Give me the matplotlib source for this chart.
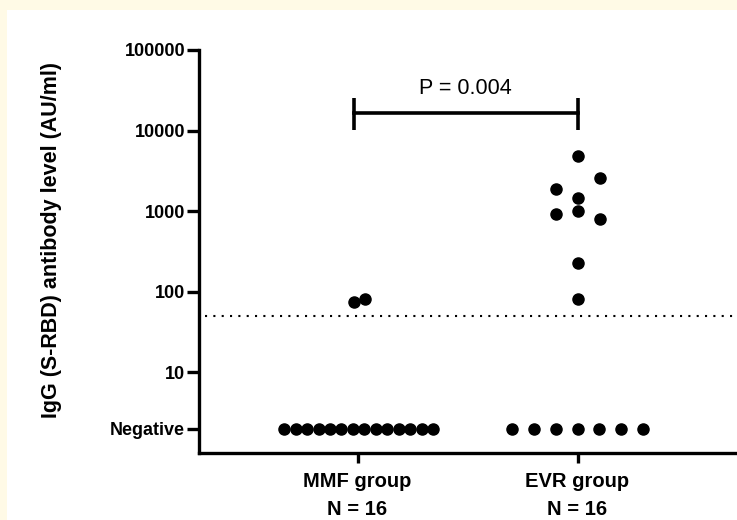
import numpy as np
import matplotlib
matplotlib.use("Agg")
import matplotlib.pyplot as plt
from matplotlib.patches import Rectangle

plt.rcParams['font.family'] = ['Liberation Sans', 'DejaVu Sans']

# Data (AU/ml); negatives are drawn at the "Negative" level
groups = ["MMF group", "EVR group"]
group_n = [16, 16]
negative_level = 2
cutoff = 50

mmf_negative_count = 14
mmf_positive = [74, 82]
mmf_positive_offset = [-0.016, 0.034]

evr_negative_count = 7
evr_positive = [4800, 2560, 1890, 1470, 930, 1010, 790, 226, 82]
evr_positive_offset = [0.0, 0.1, -0.1, 0.0, -0.1, 0.0, 0.1, 0.0, 0.0]

p_text = "P = 0.004"

y_ticks = [negative_level, 10, 100, 1000, 10000, 100000]
y_ticklabels = ["Negative", "10", "100", "1000", "10000", "100000"]


def main():
    fig = plt.figure(figsize=(7.37, 5.2), dpi=100, facecolor='#fffae6')
    # white panel inside the light yellow frame
    fig.patches.append(Rectangle((7 / 737, 0), 1, 510 / 520, transform=fig.transFigure,
                                 facecolor='white', edgecolor='none', zorder=-5))

    ax = fig.add_axes([199 / 737, 67 / 520, 1 - 199 / 737, 403 / 520])
    ax.set_facecolor('none')

    dot = dict(marker='o', color='black', markersize=8, linestyle='none', clip_on=False, zorder=3)

    # MMF group
    mmf_x = (np.arange(mmf_negative_count) - (mmf_negative_count - 1) / 2) * 0.052 + 0.005
    ax.plot(mmf_x, [negative_level] * mmf_negative_count, **dot)
    ax.plot(np.array(mmf_positive_offset), mmf_positive, **dot)

    # EVR group
    evr_x = 1 + (np.arange(evr_negative_count) - (evr_negative_count - 1) / 2) * 0.099
    ax.plot(evr_x, [negative_level] * evr_negative_count, **dot)
    ax.plot(1 + np.array(evr_positive_offset), evr_positive, **dot)

    # detection cutoff
    ax.axhline(cutoff, xmin=0.012, xmax=1, color='black', linewidth=1.5,
               linestyle=(0, (1, 3)), zorder=2)

    # significance bracket
    yb = 16500
    ax.plot([-0.015, 1.0], [yb, yb], color='black', linewidth=2.6, clip_on=False)
    for xb in [-0.015, 1.0]:
        ax.plot([xb, xb], [yb / 1.62, yb * 1.54], color='black', linewidth=2.6,
                clip_on=False, solid_capstyle='butt')
    ax.text(0.49, 33750, p_text, ha='center', va='center', fontsize=15.5)

    ax.set_yscale('log')
    ax.set_ylim(1, 100000)
    ax.set_xlim(-0.7205, 1.725)
    ax.set_yticks(y_ticks)
    ax.set_yticklabels(y_ticklabels, fontsize=13, fontweight='bold')
    ax.yaxis.set_minor_locator(matplotlib.ticker.NullLocator())
    ax.set_xticks([0, 1])
    ax.set_xticklabels([f"{g}\nN = {n}" for g, n in zip(groups, group_n)],
                       fontsize=14.5, fontweight='bold', linespacing=1.55)

    ax.set_ylabel("IgG (S-RBD) antibody level (AU/ml)", fontsize=15.5, fontweight='bold')
    ax.yaxis.set_label_coords(-0.254, 0.528)

    for side in ['top', 'right']:
        ax.spines[side].set_visible(False)
    for side in ['left', 'bottom']:
        ax.spines[side].set_linewidth(2.4)
    ax.tick_params(axis='y', width=2.4, length=9, color='black', pad=1)
    ax.tick_params(axis='x', width=2.4, length=7, color='black', pad=7)

    fig.savefig("out.png", dpi=100, facecolor=fig.get_facecolor())


if __name__ == "__main__":
    main()
